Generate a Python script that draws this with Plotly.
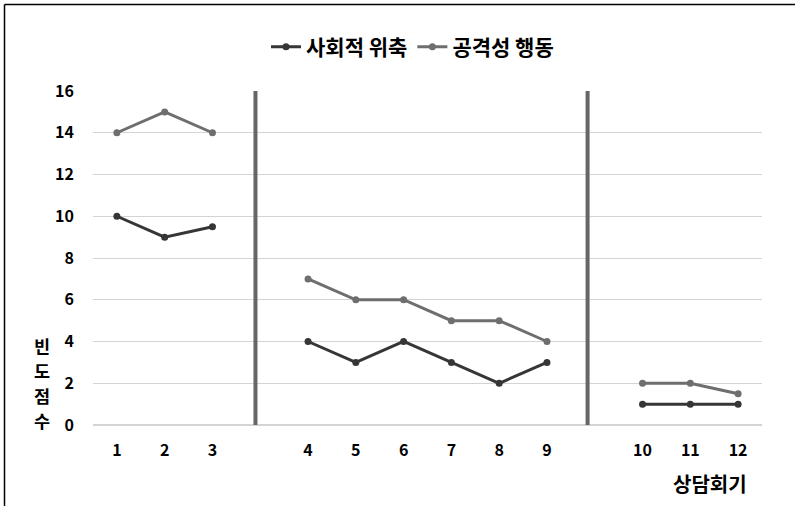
import plotly.graph_objects as go

# ---- data ----
sessions = ["1", "2", "3", "4", "5", "6", "7", "8", "9", "10", "11", "12"]
slot_index = [0, 1, 2, 4, 5, 6, 7, 8, 9, 11, 12, 13]   # category slots (gaps between phases)
social_withdrawal = [10, 9, 9.5, 4, 3, 4, 3, 2, 3, 1, 1, 1]
aggressive_behavior = [14, 15, 14, 7, 6, 6, 5, 5, 4, 2, 2, 1.5]
phase_breaks = [2.9, 9.85]
series_names = ["사회적 위축", "공격성 행동"]
y_ticks = [0, 2, 4, 6, 8, 10, 12, 14, 16]
y_title_chars = ["빈", "도", "점", "수"]

FONT = "Noto Sans CJK KR"
W, H = 795, 506
ML, MR, MT, MB = 93, 33, 91, 81
C1, C2 = "#363636", "#6e6e6e"

fig = go.Figure()
segments = [(0, 3), (3, 9), (9, 12)]
for i, (a, b) in enumerate(segments):
    fig.add_trace(go.Scatter(
        x=slot_index[a:b], y=social_withdrawal[a:b], mode="lines+markers",
        name=series_names[0], legendgroup="a", showlegend=(i == 0),
        line=dict(color=C1, width=3), marker=dict(size=7, color=C1)))
for i, (a, b) in enumerate(segments):
    fig.add_trace(go.Scatter(
        x=slot_index[a:b], y=aggressive_behavior[a:b], mode="lines+markers",
        name=series_names[1], legendgroup="b", showlegend=(i == 0),
        line=dict(color=C2, width=3), marker=dict(size=7, color=C2)))

for xb in phase_breaks:
    fig.add_shape(type="line", xref="x", yref="y", x0=xb, x1=xb, y0=-0.1, y1=16,
                  line=dict(color="#666666", width=4), layer="above")

# pixel -> paper helpers
px = lambda p: (p - ML) / (W - ML - MR)
py = lambda p: (H - MB - p) / (H - MT - MB)

# outer frame (left and top edges)
fig.add_shape(type="line", xref="paper", yref="paper", x0=px(4.5), x1=px(4.5),
              y0=py(4.5), y1=py(H + 5), line=dict(color="black", width=1.5))
fig.add_shape(type="line", xref="paper", yref="paper", x0=px(4.5), x1=px(W + 5),
              y0=py(4.5), y1=py(4.5), line=dict(color="black", width=1.5))

for ch, yy in zip(y_title_chars, [345, 370, 395, 420]):
    fig.add_annotation(xref="paper", yref="paper", x=px(42), y=py(yy),
                       text=f"<b>{ch}</b>", showarrow=False,
                       font=dict(family=FONT, size=17.5, color="black"),
                       xanchor="center", yanchor="middle", borderpad=0)
fig.add_annotation(xref="paper", yref="paper", x=px(710), y=py(484),
                   text="<b>상담회기</b>", showarrow=False,
                   font=dict(family=FONT, size=20, color="black"),
                   xanchor="center", yanchor="middle")

fig.update_layout(
    width=W, height=H,
    margin=dict(l=ML, r=MR, t=MT, b=MB),
    paper_bgcolor="white", plot_bgcolor="white",
    font=dict(family=FONT, color="black", size=14),
    legend=dict(orientation="h", x=px(266), xanchor="left", y=py(47), yanchor="middle",
                font=dict(family=FONT, size=21, color="black", weight="bold"),
                itemwidth=30, traceorder="normal", tracegroupgap=0),
    xaxis=dict(range=[-0.5, 13.5], tickvals=slot_index, ticktext=sessions,
               showgrid=False, zeroline=False, showline=False, ticks="",
               ticklabelstandoff=14,
               tickfont=dict(family=FONT, size=16, weight="bold", color="black")),
    yaxis=dict(range=[0, 16], tickvals=y_ticks, ticktext=[str(v) for v in y_ticks],
               showgrid=True, gridcolor="#d4d4d4", gridwidth=1,
               zeroline=True, zerolinecolor="#d4d4d4", zerolinewidth=1.5,
               showline=False, ticks="", ticklabelstandoff=18,
               tickfont=dict(family=FONT, size=16, weight="bold", color="black")),
)
fig.write_html("out.html", config={"displayModeBar": False},
               post_script="document.body.style.margin='0';")
